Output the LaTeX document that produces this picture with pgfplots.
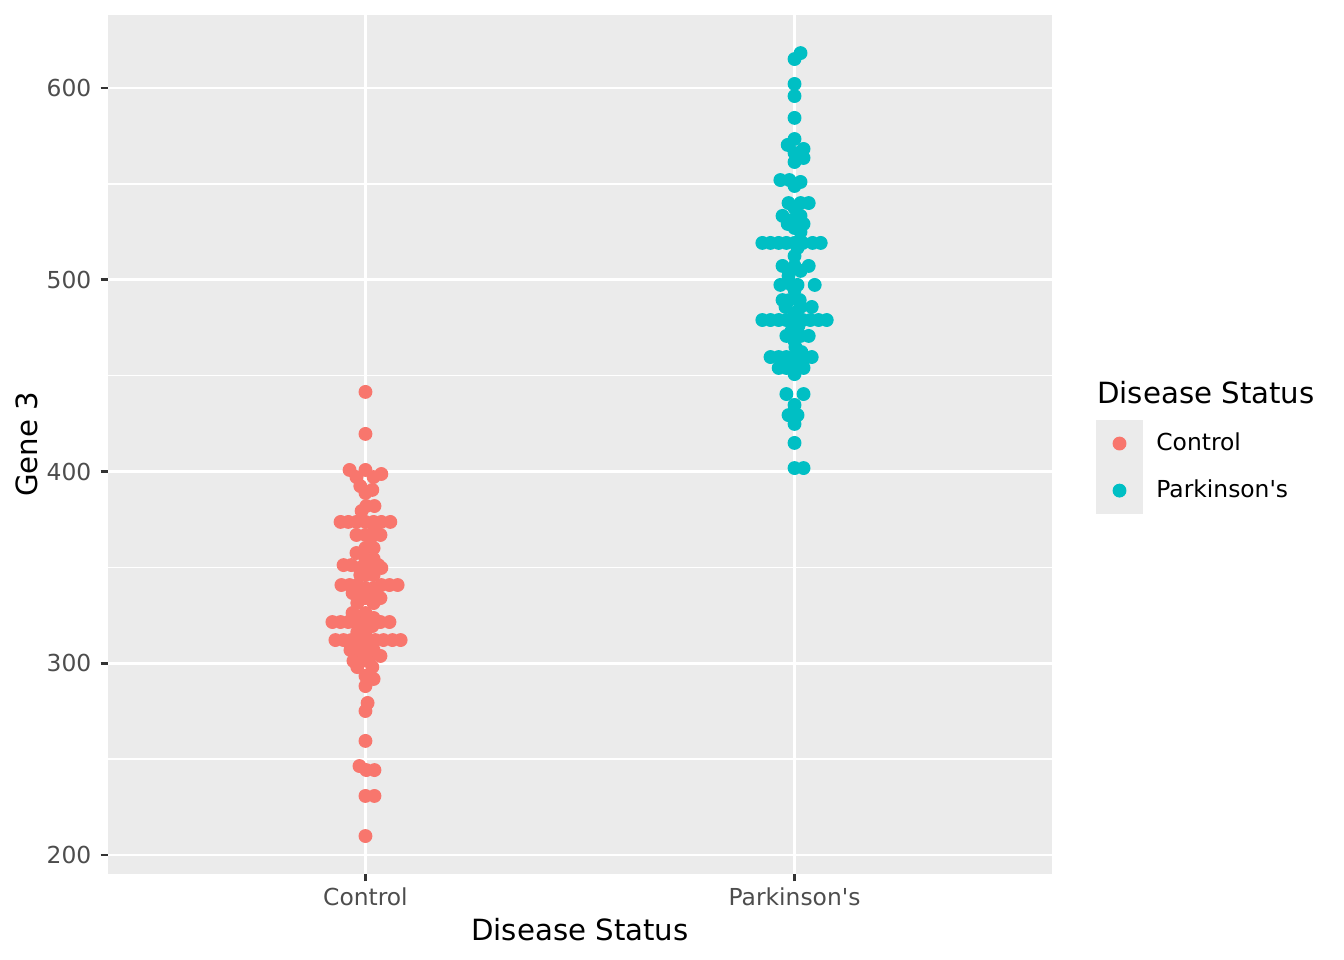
\documentclass[border=0pt]{standalone}
\usepackage{fontspec}
\setmainfont{DejaVu Sans}[Ligatures=TeXOff]
\usepackage{pgfplots}
\pgfplotsset{compat=1.18}

\definecolor{panelbg}{HTML}{EBEBEB}
\definecolor{ctrl}{HTML}{F8766D}
\definecolor{park}{HTML}{00BFC4}
\definecolor{gray30}{HTML}{4D4D4D}
\definecolor{gray20}{HTML}{333333}

\begin{document}
\begin{tikzpicture}
\path[use as bounding box] (-40.5bp,-32.25bp) rectangle (463.5bp,327.75bp);
\begin{axis}[at={(0,0)}, anchor=south west,
	scale only axis, width=354bp, height=322.125bp,
	xmin=0.4, xmax=2.6, ymin=190.1, ymax=638.07,
	axis background/.style={fill=panelbg},
	axis line style={draw=none},
	xtick={1,2}, xticklabels={Control, Parkinson's},
	ytick={200,300,400,500,600},
	minor ytick={250,350,450,550},
	xmajorgrids, ymajorgrids, yminorgrids,
	major grid style={white, line width=1.07pt},
	minor grid style={white, line width=0.53pt},
	tick pos=left, tick align=outside,
	major tick length=2.75pt, minor tick length=0pt,
	major tick style={gray20, line width=1.07pt},
	/pgf/number format/assume math mode=true,
	tick label style={font=\fontsize{8.8}{10}\selectfont, text=gray30},
	xticklabel style={yshift=1bp},
	xlabel={Disease Status}, ylabel={Gene 3},
	label style={font=\fontsize{11}{13}\selectfont},
	xlabel style={at={(axis description cs:0.5,-0.0652)}, anchor=center},
	ylabel style={at={(axis description cs:-0.0858,0.5)}, anchor=center, rotate=0},
	legend style={at={(axis description cs:1.0466,0.5285)}, anchor=north west,
		draw=none, fill=none, inner sep=0pt, outer sep=0pt, row sep=0pt,
		font=\fontsize{8.8}{10}\selectfont,
		cells={anchor=west}, nodes={inner sep=0pt},
		/tikz/every odd column/.append style={column sep=5bp}},
	legend image code/.code={
		\fill[panelbg] (0bp,-8.625bp) rectangle (17.25bp,8.625bp);
		\draw[mark repeat=1,mark phase=1] plot coordinates {(8.625bp,0bp)};
	},
	]

% Control
\addplot[only marks, mark=*, mark size=2.4bp, color=ctrl, mark options={draw=none, fill=ctrl}] coordinates {
(1, 441.5) (1, 419.6)
(0.963, 400.8) (1, 400.8) (1.037, 398.7)
(0.979, 397.1) (1.019, 397.1)
(0.988, 392.4) (1.016, 390.4) (1, 388.8)
(1.002, 382.0) (1.021, 382.0) (0.991, 379.4)
(0.942, 373.7) (0.960, 373.7) (0.979, 373.7) (1, 373.7) (1.019, 373.7) (1.037, 373.7) (1.058, 373.7)
(1.021, 370.5)
(0.979, 366.9) (1, 366.9) (1.035, 366.9)
(1.012, 365.3)
(1, 360.1) (1.019, 360.1) (0.979, 357.5)
(1, 354.4) (1.019, 354.4)
(0.949, 351.2) (0.967, 351.2) (1.030, 351.2)
(0.986, 349.7) (1.007, 349.7) (1.037, 349.7)
(0.988, 346.0) (1, 346.0) (1.019, 346.0)
(0.944, 340.8) (0.963, 340.8) (0.981, 340.8) (1.037, 340.8) (1.056, 340.8) (1.075, 340.8)
(1, 339.2) (1.019, 339.2)
(0.970, 336.6) (0.988, 336.6) (1.026, 336.6)
(1, 334.0) (1.035, 334.0)
(0.981, 331.4) (1.019, 331.4)
(0.970, 326.2) (1, 326.2) (1.019, 323.6)
(0.923, 321.5) (0.942, 321.5) (0.960, 321.5) (0.979, 321.5) (0.998, 321.5) (1.035, 321.5) (1.056, 321.5)
(1.016, 319.4)
(0.981, 316.3) (1, 316.3)
(0.930, 312.1) (0.949, 312.1) (0.967, 312.1) (0.986, 312.1) (1.005, 312.1) (1.023, 312.1) (1.042, 312.1) (1.063, 312.1) (1.082, 312.1)
(1, 309.5)
(0.965, 306.9) (0.984, 306.9) (1.019, 306.9)
(1, 303.8) (1.035, 303.8)
(0.972, 301.2) (0.991, 301.2) (1.007, 301.2)
(0.981, 298.0) (1.016, 298.0)
(1, 293.4) (1.019, 291.8) (1, 288.1)
(1.005, 279.3) (1, 275.1) (1, 259.5)
(0.986, 246.4) (1.002, 244.3) (1.021, 244.3)
(1, 230.8) (1.021, 230.8)
(1, 209.9)
};
\addlegendentry{Control}

% Parkinson's
\addplot[only marks, mark=*, mark size=2.4bp, color=park, mark options={draw=none, fill=park}] coordinates {
(2.014, 618.2) (2, 615.1) (2, 602.1) (2, 595.8) (2, 584.4) (2, 573.4)
(1.984, 570.3) (2.021, 568.2) (2, 566.1) (2.021, 563.5) (2, 561.4)
(1.967, 552.0) (1.988, 552.0) (2.014, 551.0) (2, 548.9)
(1.986, 540.0) (2.014, 540.0) (2.033, 540.0)
(2, 537.4)
(1.972, 533.3) (2.014, 533.3) (1.995, 531.2)
(1.984, 529.1) (2.021, 529.1) (2, 527.0) (2.014, 524.9)
(1.925, 519.2) (1.944, 519.2) (1.963, 519.2) (1.981, 519.2) (2, 519.2) (2.019, 519.2) (2.042, 519.2) (2.061, 519.2)
(2.007, 516.6) (2, 512.4)
(1.972, 507.2) (2, 507.2) (2.033, 507.2)
(2.014, 504.6) (1.986, 502.0)
(1.967, 497.3) (1.993, 497.3) (2.007, 497.3) (2.047, 497.3)
(2, 494.7)
(1.972, 489.4) (1.988, 489.4) (2.012, 489.4)
(1.979, 485.8) (2.014, 485.8) (2.040, 485.8)
(2, 482.7)
(1.925, 479.0) (1.944, 479.0) (1.963, 479.0) (1.981, 479.0) (2, 479.0) (2.019, 479.0) (2.037, 479.0) (2.056, 479.0) (2.075, 479.0)
(2.009, 475.9) (1.993, 473.3)
(1.981, 470.7) (2.014, 470.7) (2.033, 470.7)
(2, 468.1) (2.002, 464.9) (2.016, 462.3)
(1.944, 459.7) (1.963, 459.7) (1.981, 459.7) (2, 459.7) (2.040, 459.7)
(1.991, 457.1) (2.019, 457.1)
(1.963, 454.0) (1.981, 454.0) (2.002, 454.0) (2.021, 454.0)
(2, 450.8)
(1.981, 440.4) (2.021, 440.4)
(2, 434.7)
(1.986, 429.4) (2.007, 429.4)
(2, 424.8) (2, 414.9)
(2, 401.8) (2.021, 401.8)
};
\addlegendentry{Parkinson's}
\end{axis}
\node[anchor=west, inner sep=0pt, font=\fontsize{11}{13}\selectfont] at (370.8bp,180.7bp) {Disease Status};
\end{tikzpicture}
\end{document}
